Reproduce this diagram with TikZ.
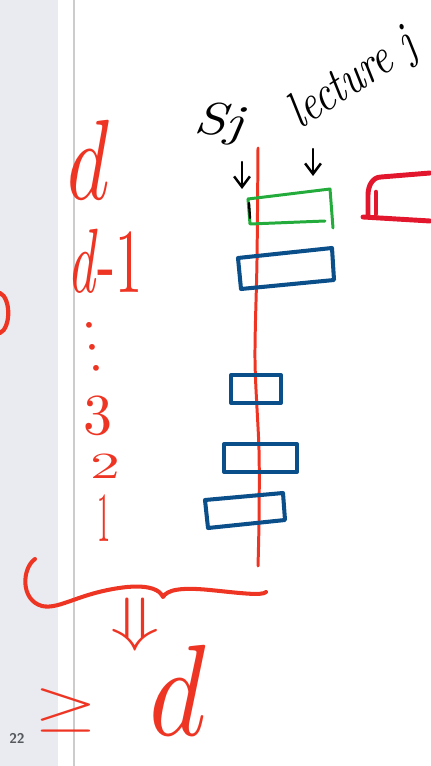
\documentclass[tikz,border=0pt]{standalone}
\usepackage{amsmath,graphicx}
\usetikzlibrary{arrows.meta}
\definecolor{inkRed}{HTML}{EE3524}
\definecolor{boxRed}{HTML}{E2162D}
\definecolor{inkBlue}{HTML}{0B4F8A}
\definecolor{inkGreen}{HTML}{23AC3B}
\definecolor{panelGray}{HTML}{E9EBF0}
\definecolor{ruleGray}{HTML}{CCCCCC}
\definecolor{numGray}{HTML}{55585D}
\tikzset{
    hand/.style={text=inkRed,inner sep=0pt,anchor=center},
    note/.style={text=black,inner sep=0pt,anchor=center},
    redstroke/.style={draw=inkRed,line width=1.8pt,line cap=round,line join=round},
    slot/.style={draw=inkBlue,line width=2.3pt,line join=round},
    greenslot/.style={draw=inkGreen,line width=1.7pt,line cap=round,line join=round},
    pointer/.style={-{Straight Barb[length=6pt,width=9pt]},draw=black,line width=1.4pt,line cap=round}
}

\begin{document}
\begin{tikzpicture}[x=0.02cm,y=-0.02cm]
    \useasboundingbox (0,0) rectangle (430,766);
    % page margin
    \fill[panelGray] (0,0) rectangle (58,766);
    \draw[ruleGray,line width=0.6pt] (74,0) -- (74,766);
    \node[text=numGray,font=\fontsize{8}{9}\sffamily\bfseries] (pg) at (17,738) {22};
    \draw[redstroke,line width=2.4pt] (0,293) .. controls (11,298) and (11,328) .. (0,333);

    % levels
    \node[hand] (d) at (89,160) {\scalebox{4.6}[6.5]{$d$}};
    \node[hand] (dm) at (105,261) {\scalebox{3.1}[5.2]{\textit{d}-1}};
    \node[hand,rotate=10] (dots) at (90,331) {\scalebox{3.1}{$\vdots$}};
    \node[hand] (l3) at (98,416) {\scalebox{3.3}{3}};
    \node[hand] (l2) at (105,466) {\scalebox{3.4}[2.1]{2}};
    \node[hand] (l1) at (104,518) {\scalebox{1.5}[4]{1}};

    % the time line and its slots
    \draw[redstroke,line width=1.7pt] plot[smooth] coordinates
        {(258,148) (257,260) (255,360) (259,450) (259,520) (258,566)};
    \draw[greenslot] (248,199) -- (330,189) -- (333,228);
    \draw[greenslot] (325,221) -- (250,224) -- (248,199);
    \draw[black,line width=1.3pt,line cap=round] (249,203) -- (250,218);
    \draw[slot] (238,258) -- (332,248) -- (334,280) -- (241,289) -- cycle;
    \draw[slot] (231,375) rectangle (281,403);
    \draw[slot] (224,444) rectangle (297,472);
    \draw[slot] (205,500) -- (283,493) -- (285,520) -- (208,528) -- cycle;

    % labels on top
    \node[note,rotate=-6] (sj) at (220,124) {\scalebox{3.2}[2.6]{\textit{Sj}}};
    \node[note,rotate=33] (lec) at (354,80) {\scalebox{2.3}[2.9]{\textit{lecture j}}};
    \coordinate (sjfrom) at (242,162);
    \coordinate (sjto) at (242,189);
    \coordinate (lecfrom) at (313,149);
    \coordinate (lecto) at (313,176);
    \draw[pointer] (sjfrom) -- (sjto);
    \draw[pointer] (lecfrom) -- (lecto);

    % next block, cut off
    \draw[draw=boxRed,line width=2.8pt,line cap=round,line join=round]
        (368,216) -- (368,195) to[out=90,in=180] (381,177) -- (430,173);
    \draw[draw=boxRed,line width=2.8pt,line cap=round] (363,217) -- (430,221);
    \draw[draw=boxRed,line width=2.6pt,line cap=round] (376,192) -- (376,214);

    % brace and result
    \draw[redstroke,line width=2.3pt] (35,559) .. controls (22,568) and (20,600) .. (42,606)
        .. controls (60,610) and (80,592) .. (127,587)
        .. controls (150,585) and (160,590) .. (163,597)
        .. controls (167,590) and (180,587) .. (210,590)
        .. controls (240,593) and (262,596) .. (266,592);
    \node[hand] (imp) at (135,625) {\scalebox{4.6}[3.4]{$\Downarrow$}};
    \node[hand] (geq) at (66,710) {\scalebox{4.6}[3.2]{$\geq$}};
    \node[hand] (dd) at (178,690) {\scalebox{6.2}[7.4]{$d$}};
\end{tikzpicture}
\end{document}
